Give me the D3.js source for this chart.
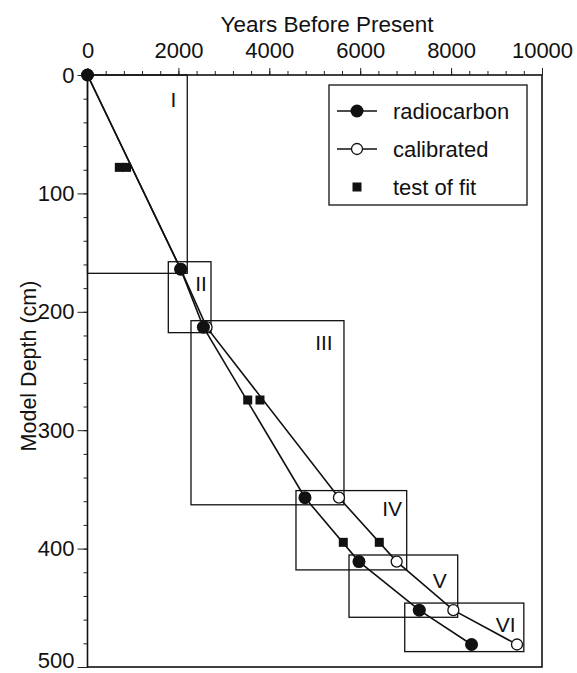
<!DOCTYPE html>
<html>
<head>
<meta charset="utf-8">
<script src="https://cdn.jsdelivr.net/npm/d3@7"></script>
<style>
  body { margin: 0; background: #fff; }
  text { font-family: "Liberation Sans", Arial, sans-serif; fill: #111; }
</style>
</head>
<body>
<div id="chart"></div>
<script>
//* data
var radioYears = [0, 2050, 2550, 4785, 5973, 7300, 8450]
var radioDepth = [0, 164, 213, 357, 411, 452, 481]
var calYears = [0, 2050, 2620, 5533, 6803, 8050, 9450]
var calDepth = [0, 164, 213, 357, 411, 452, 481]
var fitYears = [700, 860, 3525, 3795, 5628, 6420]
var fitDepth = [78, 78, 274.5, 274.5, 394.7, 394.7]

// zones: years min/max, depth min/max
var zoneNames = ["I", "II", "III", "IV", "V", "VI"]
var zoneX0 = [0, 1778, 2277, 4587, 5754, 6980]
var zoneX1 = [2195, 2717, 5643, 7023, 8145, 9600]
var zoneY0 = [0, 157.7, 207.5, 351, 405.4, 446]
var zoneY1 = [167.5, 217.6, 363, 418, 458, 487]
var labelYears = [1888, 2497, 5203, 6702, 7750, 9200]
var labelDepth = [21, 176, 226, 366, 427, 464]

var xTicks = [0, 2000, 4000, 6000, 8000, 10000]
var yTicks = [0, 100, 200, 300, 400, 500]
var legendNames = ["radiocarbon", "calibrated", "test of fit"]

var W = 577, H = 673
var svg = d3.select("#chart").append("svg").attr("width", W).attr("height", H)

var x = d3.scaleLinear().domain([0, 10000]).range([87.5, 542])
var y = d3.scaleLinear().domain([0, 500]).range([75, 667])

//? minor ticks
svg.append("g").attr("transform", "translate(0," + y(0) + ")")
    .call(d3.axisTop(x).tickValues(d3.range(0, 10001, 400)).tickSize(4).tickFormat(""))
    .call(g => g.select(".domain").remove())
svg.append("g").attr("transform", "translate(" + x(0) + ",0)")
    .call(d3.axisLeft(y).tickValues(d3.range(0, 501, 20)).tickSize(4).tickFormat(""))
    .call(g => g.select(".domain").remove())

//? major ticks
var xAxis = svg.append("g").attr("transform", "translate(0," + y(0) + ")")
    .call(d3.axisTop(x).tickValues(xTicks).tickSize(7).tickPadding(10).tickFormat(d3.format("d")))
xAxis.select(".domain").remove()
xAxis.selectAll("text").style("font-size", "22px").attr("fill", "#111")

var yAxis = svg.append("g").attr("transform", "translate(" + x(0) + ",0)")
    .call(d3.axisLeft(y).tickValues(yTicks).tickSize(10).tickPadding(3).tickFormat(d3.format("d")))
yAxis.select(".domain").remove()
yAxis.selectAll("text").style("font-size", "22px").attr("fill", "#111")
    .attr("dy", d => d == 500 ? "0em" : "0.32em")   // bottom label kept inside the picture

svg.selectAll(".tick line").attr("stroke", "#222").attr("stroke-width", 1)

// frame
svg.append("rect").attr("x", x(0)).attr("y", y(0))
    .attr("width", x(10000) - x(0)).attr("height", y(500) - y(0))
    .attr("fill", "none").attr("stroke", "#111").attr("stroke-width", 1.6)

// titles
svg.append("text").attr("x", 327).attr("y", 32).attr("text-anchor", "middle")
    .style("font-size", "22.5px").text("Years Before Present")
svg.append("text").attr("transform", "translate(36,366) rotate(-90)").attr("text-anchor", "middle")
    .style("font-size", "21.5px").text("Model Depth (cm)")

// zone boxes
zoneNames.forEach((n, i) => {
    svg.append("rect").attr("x", x(zoneX0[i])).attr("y", y(zoneY0[i]))
        .attr("width", x(zoneX1[i]) - x(zoneX0[i])).attr("height", y(zoneY1[i]) - y(zoneY0[i]))
        .attr("fill", "none").attr("stroke", "#111").attr("stroke-width", 1.3)
    svg.append("text").attr("x", x(labelYears[i])).attr("y", y(labelDepth[i]))
        .attr("text-anchor", "middle").attr("dominant-baseline", "central")
        .style("font-size", "21px").text(n)
})

var line = d3.line().x(d => x(d[0])).y(d => y(d[1]))
var radio = radioYears.map((v, i) => [v, radioDepth[i]])
var cal = calYears.map((v, i) => [v, calDepth[i]])

svg.append("path").datum(cal).attr("d", line).attr("fill", "none").attr("stroke", "#111").attr("stroke-width", 1.6)
svg.append("path").datum(radio).attr("d", line).attr("fill", "none").attr("stroke", "#111").attr("stroke-width", 1.6)

svg.selectAll(".cal").data(cal).enter().append("circle")
    .attr("cx", d => x(d[0])).attr("cy", d => y(d[1])).attr("r", 5.5)
    .attr("fill", "#fff").attr("stroke", "#111").attr("stroke-width", 1.3)
svg.selectAll(".radio").data(radio).enter().append("circle")
    .attr("cx", d => x(d[0])).attr("cy", d => y(d[1])).attr("r", 6.5).attr("fill", "#111")

svg.selectAll(".fit").data(fitYears).enter().append("rect")
    .attr("x", (d, i) => x(d) - 4.5).attr("y", (d, i) => y(fitDepth[i]) - 4.5)
    .attr("width", 9).attr("height", 9).attr("fill", "#111")

//* legend
var lg = svg.append("g")
lg.append("rect").attr("x", 329).attr("y", 85).attr("width", 198).attr("height", 120)
    .attr("fill", "#fff").attr("stroke", "#111").attr("stroke-width", 1.3)
legendNames.forEach((n, i) => {
    var ly = 111 + i * 38
    if (i < 2) {
        lg.append("line").attr("x1", 337).attr("x2", 377).attr("y1", ly).attr("y2", ly)
            .attr("stroke", "#111").attr("stroke-width", 1.4)
    }
    if (i == 0) lg.append("circle").attr("cx", 357).attr("cy", ly).attr("r", 6.5).attr("fill", "#111")
    if (i == 1) lg.append("circle").attr("cx", 357).attr("cy", ly).attr("r", 5.5)
        .attr("fill", "#fff").attr("stroke", "#111").attr("stroke-width", 1.3)
    if (i == 2) lg.append("rect").attr("x", 352.5).attr("y", ly - 4.5).attr("width", 9).attr("height", 9).attr("fill", "#111")
    lg.append("text").attr("x", 393).attr("y", ly).attr("dominant-baseline", "central")
        .style("font-size", "22px").text(n)
})
</script>
</body>
</html>
